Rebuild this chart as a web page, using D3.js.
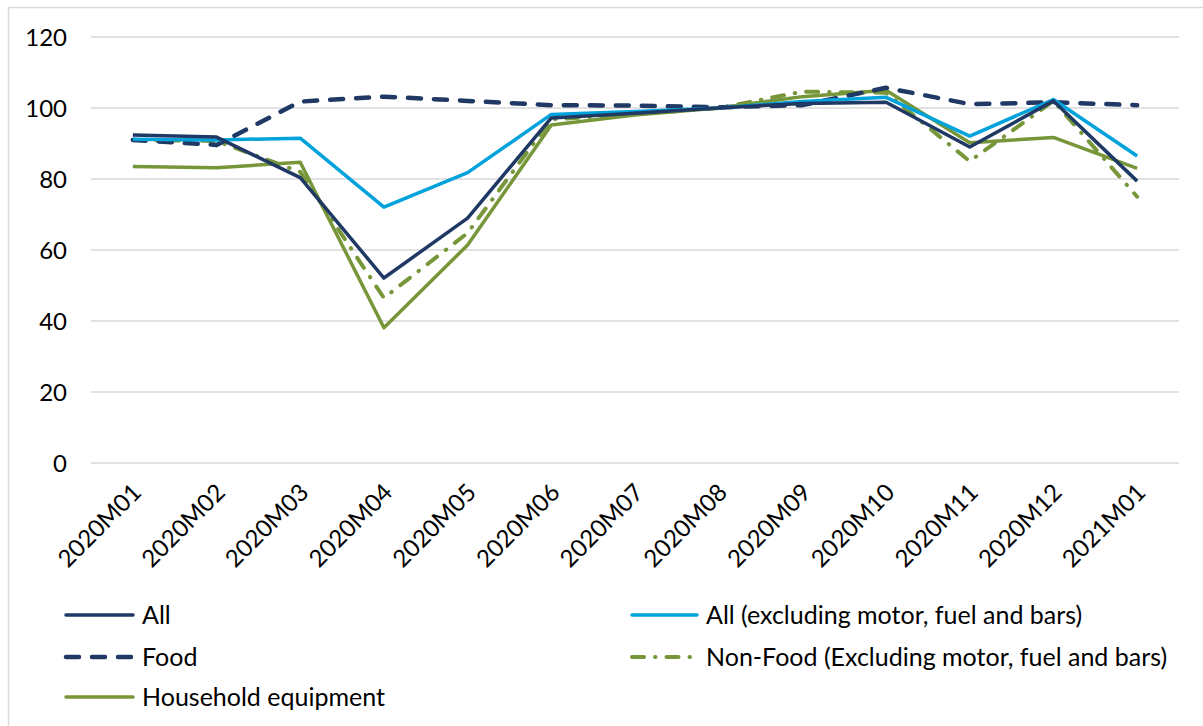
<!DOCTYPE html>
<html>
<head>
	<title></title>
	<style>
		body { margin: 0; background: #fff; }
		text { font-family: Lato, "Noto Sans", sans-serif; fill: #000; }
	</style>
</head>
<body>
	<svg id="container" height="726" width="1203"></svg>
</body>
<script src="https://d3js.org/d3.v7.min.js"></script>
<script>
	// chart data
	let months = ["2020M01","2020M02","2020M03","2020M04","2020M05","2020M06","2020M07",
		"2020M08","2020M09","2020M10","2020M11","2020M12","2021M01"]
	let allValues      = [92.4, 91.8, 80.4, 52.1, 69.0, 97.2, 98.5, 100, 101.3, 101.6, 89.0, 102.0, 79.4]
	let allExclValues  = [91.2, 91.0, 91.5, 72.1, 81.8, 98.2, 99.0, 100, 101.8, 103.0, 92.1, 102.4, 86.5]
	let foodValues     = [91.0, 89.6, 101.8, 103.2, 102.0, 100.8, 100.7, 100.2, 100.8, 105.7, 101.1, 101.6, 100.8]
	let nonFoodValues  = [91.0, 90.7, 82.0, 46.5, 64.8, 96.8, 98.3, 100, 104.6, 104.3, 85.0, 102.0, 75.0]
	let householdValues= [83.5, 83.2, 84.7, 38.1, 61.4, 95.2, 98.0, 100, 103.2, 105.0, 90.2, 91.7, 83.0]
	let yTicks = [0, 20, 40, 60, 80, 100, 120]

	let series = [
		{name: "All", values: allValues, color: "#1f3864", width: 3.5, dash: null},
		{name: "All (excluding motor, fuel and bars)", values: allExclValues, color: "#00a2db", width: 3.5, dash: null},
		{name: "Food", values: foodValues, color: "#1f3864", width: 4.5, dash: "13,13"},
		{name: "Non-Food (Excluding motor, fuel and bars)", values: nonFoodValues, color: "#77963a", width: 4, dash: "12,11,0.5,11"},
		{name: "Household equipment", values: householdValues, color: "#77963a", width: 3.5, dash: null}
	]
	// draw order (bottom to top)
	let drawOrder = [4, 3, 2, 1, 0]

	let svg = d3.select("#container")

	// outer frame
	svg.append("rect")
		.attr("x", 8.5).attr("y", 7.5)
		.attr("width", 1200).attr("height", 730)
		.attr("fill", "none")
		.attr("stroke", "#d9d9d9")
		.attr("stroke-width", 1.5)

	let x = d3.scalePoint()
		.domain(months)
		.range([91, 1179])
		.padding(0.5)

	let y = d3.scaleLinear()
		.domain([0, 120])
		.range([463, 37])

	// gridlines
	svg.append("g")
		.selectAll("line")
		.data(yTicks)
		.enter().append("line")
		.attr("x1", 91).attr("x2", 1179)
		.attr("y1", d => y(d)).attr("y2", d => y(d))
		.attr("stroke", "#d9d9d9")
		.attr("stroke-width", 1.5)

	// y labels
	svg.append("g")
		.selectAll("text")
		.data(yTicks)
		.enter().append("text")
		.attr("x", 67)
		.attr("y", d => y(d))
		.attr("dy", "0.36em")
		.attr("text-anchor", "end")
		.style("font-size", "24px")
		.text(d => d)

	// x labels
	svg.append("g")
		.selectAll("text")
		.data(months)
		.enter().append("text")
		.attr("transform", d => "translate(" + (x(d) + 4) + ",488) rotate(-45)")
		.attr("text-anchor", "end")
		.attr("dy", "0.35em")
		.style("font-size", "24px")
		.text(d => d)

	let line = d3.line()
		.x((d, i) => x(months[i]))
		.y(d => y(d))

	svg.append("g")
		.selectAll("path")
		.data(drawOrder.map(i => series[i]))
		.enter().append("path")
		.attr("d", d => line(d.values))
		.attr("fill", "none")
		.attr("stroke", d => d.color)
		.attr("stroke-width", d => d.width)
		.attr("stroke-dasharray", d => d.dash)
		.attr("stroke-linecap", d => d.dash ? "round" : "butt")
		.attr("stroke-linejoin", "round")

	// legend
	let legendPos = [
		{x: 66, y: 615, len: 67}, {x: 632, y: 615, len: 65},
		{x: 66, y: 657, len: 67}, {x: 632, y: 657, len: 65},
		{x: 66, y: 697, len: 67}
	]
	let legend = svg.append("g")
		.selectAll("g")
		.data(series)
		.enter().append("g")
		.attr("transform", (d, i) => "translate(" + legendPos[i].x + "," + legendPos[i].y + ")")

	legend.append("line")
		.attr("x1", 0).attr("x2", (d, i) => legendPos[i].len)
		.attr("stroke", d => d.color)
		.attr("stroke-width", d => d.width)
		.attr("stroke-dasharray", d => d.dash)
		.attr("stroke-linecap", "round")

	legend.append("text")
		.attr("x", (d, i) => legendPos[i].len + 9)
		.attr("dy", "0.35em")
		.style("font-size", "25px")
		.text(d => d.name)
</script>
</html>
